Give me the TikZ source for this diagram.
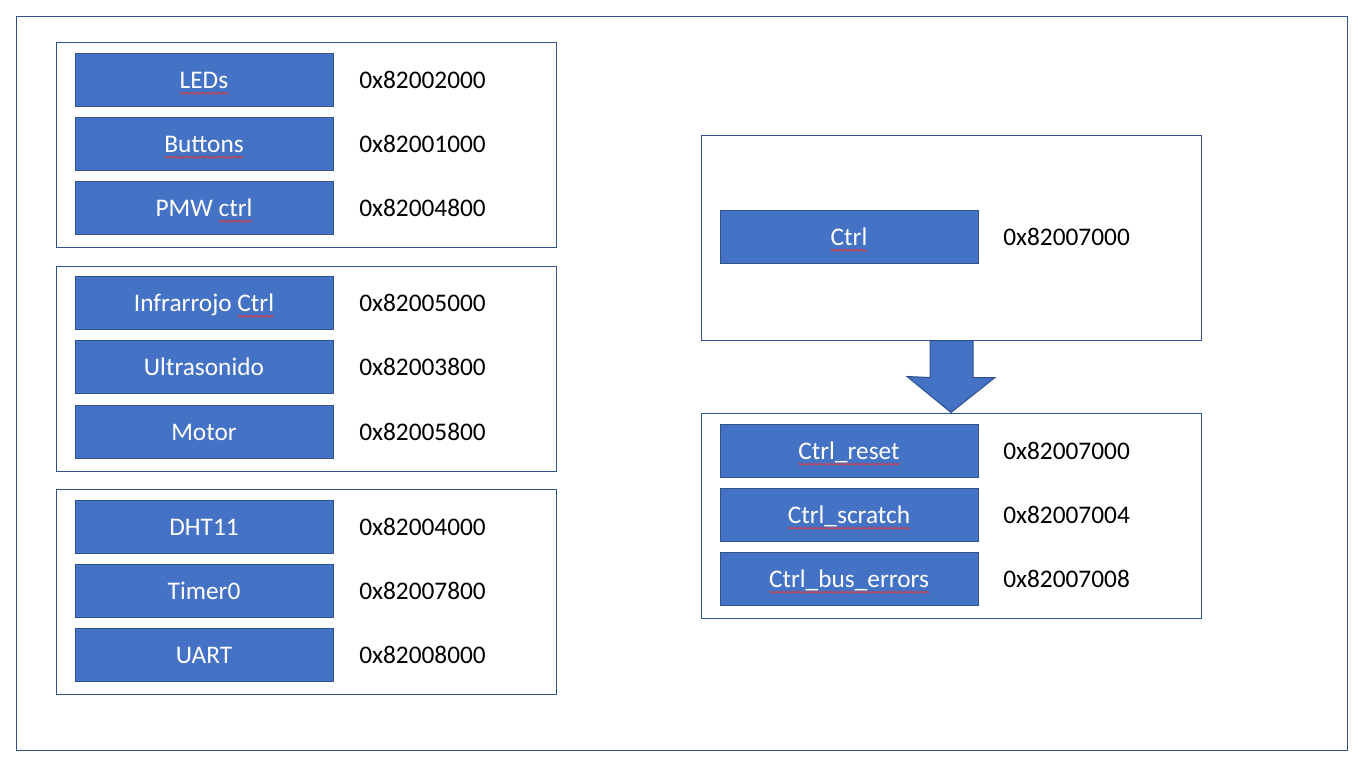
\documentclass[tikz,border=0pt]{standalone}
\usepackage{fontspec}
\setmainfont{Carlito}
\usetikzlibrary{decorations.pathmorphing}
\definecolor{boxfill}{HTML}{4472C4}
\definecolor{boxline}{HTML}{2F528F}
\definecolor{spellred}{HTML}{E0393E}
\newcommand\spellmark[1]{\tikz[baseline=(w.base)]{\node[inner sep=0pt,outer sep=0pt,draw=none,fill=none,text=white,minimum width=0pt,minimum height=0pt,anchor=base](w){#1};\draw[overlay,spellred,line width=0.55pt,decorate,decoration={snake,amplitude=0.7pt,segment length=2.4pt}]([yshift=-3.2pt]w.base west)--([yshift=-3.2pt]w.base east);}}
\tikzset{
  regbox/.style={rectangle,fill=boxfill,draw=boxline,line width=0.75pt,text=white,minimum width=193.5pt,minimum height=39.75pt,inner sep=0pt,text height=16pt,text depth=1.8pt},
  grp/.style={rectangle,draw=boxline,fill=white,line width=0.75pt,minimum width=375pt,minimum height=153.75pt,inner sep=0pt},
  addr/.style={anchor=west,inner sep=0pt,text=black,text height=16pt,text depth=1.8pt},
}
\begin{document}
\begin{tikzpicture}[x=0.75pt,y=-0.75pt,font=\fontsize{19pt}{23pt}\selectfont]
\useasboundingbox (0,0) rectangle (1363,768);
\node[draw=boxline,line width=0.75pt,minimum width=998.25pt,minimum height=550.5pt,inner sep=0pt] (frame) at (681.5,383) {};
% left groups
\node[grp] (g1) at (306,144.5) {};
\node[grp] (g2) at (306,368.5) {};
\node[grp] (g3) at (306,591.5) {};
\node[regbox] (leds) at (204,79.5) {\spellmark{LEDs}};
\node[regbox] (btn) at (204,143.5) {\spellmark{Buttons}};
\node[regbox] (pmw) at (204,207.5) {PMW \spellmark{ctrl}};
\node[regbox] (ir) at (204,302.5) {Infrarrojo \spellmark{Ctrl}};
\node[regbox] (us) at (204,366.5) {Ultrasonido};
\node[regbox] (mot) at (204,431.5) {Motor};
\node[regbox] (dht) at (204,526.5) {DHT11};
\node[regbox] (tim) at (204,590.5) {Timer0};
\node[regbox] (uart) at (204,654.5) {UART};
\node[addr] (aleds) at (359,79.5) {0x82002000};
\node[addr] (abtn) at (359,143.5) {0x82001000};
\node[addr] (apmw) at (359,207.5) {0x82004800};
\node[addr] (air) at (359,302.5) {0x82005000};
\node[addr] (aus) at (359,366.5) {0x82003800};
\node[addr] (amot) at (359,431.5) {0x82005800};
\node[addr] (adht) at (359,526.5) {0x82004000};
\node[addr] (atim) at (359,590.5) {0x82007800};
\node[addr] (auart) at (359,654.5) {0x82008000};
% right groups
\node[grp] (rtop) at (951,237.5) {};
\node[grp] (rbot) at (951,515.5) {};
\node[regbox] (ctrl) at (849,236.5) {\spellmark{Ctrl}};
\node[addr] (actrl) at (1003,236.5) {0x82007000};
\node[regbox] (creset) at (849,450.5) {\spellmark{Ctrl\_reset}};
\node[regbox] (cscr) at (849,514.5) {\spellmark{Ctrl\_scratch}};
\node[regbox] (cbus) at (849,578.5) {\spellmark{Ctrl\_bus\_errors}};
\node[addr] (acreset) at (1003,450.5) {0x82007000};
\node[addr] (acscr) at (1003,514.5) {0x82007004};
\node[addr] (acbus) at (1003,578.5) {0x82007008};
% block arrow
\draw[fill=boxfill,draw=boxline,line width=0.75pt,line join=miter]
  ([shift={(-21,0)}]rtop.south) -- ([shift={(22,0)}]rtop.south) -- ([shift={(22,37)}]rtop.south)
  -- ([shift={(44,37)}]rtop.south) -- (rbot.north) -- ([shift={(-44,-36)}]rbot.north)
  -- ([shift={(-21,37)}]rtop.south) -- cycle;
\end{tikzpicture}
\end{document}
